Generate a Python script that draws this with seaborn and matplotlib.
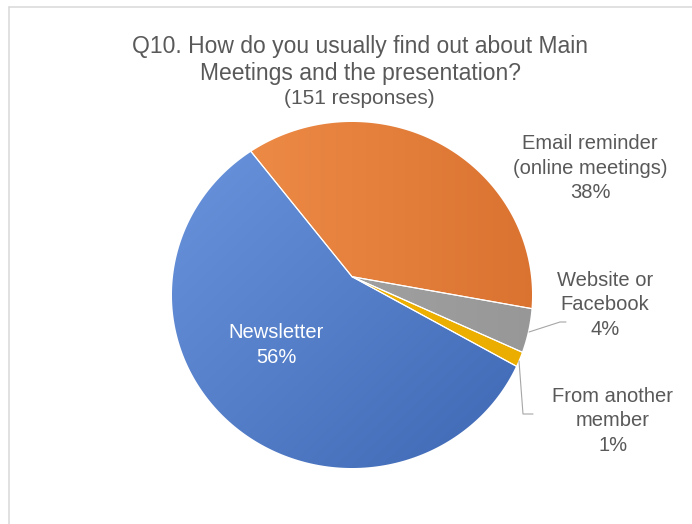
import numpy as np
import matplotlib
matplotlib.use("Agg")
import matplotlib.pyplot as plt
import seaborn as sns
from matplotlib.colors import LinearSegmentedColormap
from matplotlib.lines import Line2D
from matplotlib.path import Path
from matplotlib.patches import PathPatch

# survey answers (clockwise from the upper left)
categories = ["Email reminder\n(online meetings)", "Website or\nFacebook", "From another\nmember", "Newsletter"]
responses = [58, 6, 2, 85]
total_responses = 151
title = "Q10. How do you usually find out about Main\nMeetings and the presentation?"
subtitle = "({} responses)".format(total_responses)

# light -> dark colour of each slice and gradient direction
slice_colors = [("#F2914C", "#DA7230", "h"), ("#A9A9A9", "#979797", "h"),
                ("#F2B400", "#EBAE00", "h"), ("#6C97DF", "#3D66B2", "d")]

sns.set_theme(style="white")
plt.rcParams["font.family"] = ["Liberation Sans", "DejaVu Sans"]

W, H = 692, 524
fig = plt.figure(figsize=(W / 100, H / 100), dpi=100)


def fx(x):
    return x / W


def fy(y):
    return 1 - y / H


# axes placed over the pie area
ax = fig.add_axes([fx(172), fy(468), (532 - 172) / W, (468 - 122) / H])
# in the original the slices meet a little above the middle of the disc,
# so draw a larger pie from that point and cut it to the unit circle
wedges, _ = ax.pie(responses, center=(0, 0.106), radius=1.3, startangle=127.8,
                   counterclock=False, colors=[c[1] for c in slice_colors],
                   wedgeprops=dict(edgecolor="white", linewidth=0.8))

# gradient fill clipped to each wedge
yy, xx = np.mgrid[1:-1:300j, -1:1:300j]
for wedge, (c0, c1, direction) in zip(wedges, slice_colors):
    if direction == "h":
        t = (xx + 1) / 2
    else:
        t = (xx - yy + 2) / 4
    cmap = LinearSegmentedColormap.from_list("g", [c0, c1])
    im = ax.imshow(t, cmap=cmap, extent=[-1.05, 1.05, -1.05, 1.05], aspect="auto", zorder=2)
    im.set_clip_path(wedge)
    wedge.set_facecolor("none")
    wedge.set_zorder(3)

# white mask outside the disc
th = np.linspace(0, 2 * np.pi, 720)
rect = [(-1.1, -1.1), (1.1, -1.1), (1.1, 1.1), (-1.1, 1.1), (-1.1, -1.1)]
ring = list(zip(np.cos(-th), np.sin(-th)))
verts = rect + ring
codes = ([Path.MOVETO] + [Path.LINETO] * 3 + [Path.CLOSEPOLY]
         + [Path.MOVETO] + [Path.LINETO] * (len(ring) - 2) + [Path.CLOSEPOLY])
ax.add_patch(PathPatch(Path(verts, codes), facecolor="white", edgecolor="none", zorder=4))

ax.set_xlim(-1, 1)
ax.set_ylim(-1, 1)
ax.set_aspect("auto")
ax.axis("off")

# chart border
border = "#D9D9D9"
fig.add_artist(Line2D([fx(9), fx(W)], [fy(6.5), fy(6.5)], color=border, lw=1.1))
fig.add_artist(Line2D([fx(9), fx(9)], [fy(6.5), fy(H)], color=border, lw=1.1))

# titles
text_color = "#595959"
fig.text(fx(360), fy(60), title, ha="center", va="center", fontsize=16.5,
         color=text_color, linespacing=1.18)
fig.text(fx(359), fy(98), subtitle, ha="center", va="center", fontsize=15,
         color=text_color)

# data labels
pct = [round(v / sum(responses) * 100) for v in responses]
label_pos = [(590, 168), (605, 305), (613, 421), (276, 345)]
for cat, p, (x, y) in zip(categories, pct, label_pos):
    col = "white" if cat == "Newsletter" else text_color
    fig.text(fx(x), fy(y), "{}\n{}%".format(cat, p), ha="center", va="center",
             fontsize=14.5, color=col, linespacing=1.38)

# leader lines
leader = "#A6A6A6"
fig.add_artist(Line2D([fx(529), fx(560), fx(566)], [fy(332), fy(322), fy(322)], color=leader, lw=0.8))
fig.add_artist(Line2D([fx(519), fx(523), fx(533)], [fy(361), fy(414), fy(414)], color=leader, lw=0.8))

fig.savefig("out.png", dpi=100)
